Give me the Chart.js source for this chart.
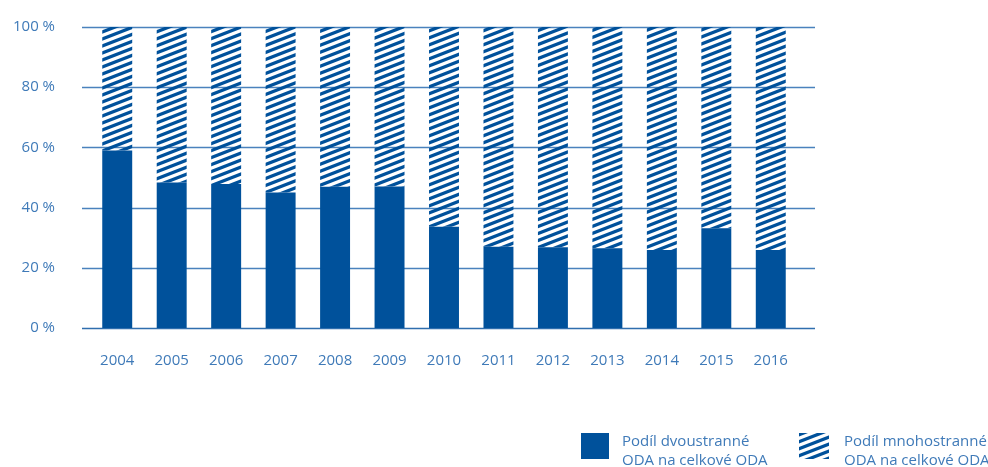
<!DOCTYPE html>
<html>
<head>
<meta charset="utf-8">
<script src="https://cdn.jsdelivr.net/npm/chart.js@4.4.0/dist/chart.umd.min.js"></script>
<style>
  html, body { margin: 0; padding: 0; background: #fff; }
  #wrap { position: relative; width: 988px; height: 467px; }
  .lg { position: absolute; font-family: "Open Sans", sans-serif; font-size: 15px; line-height: 19px; color: #3f7ab8; white-space: nowrap; }
  .sw { position: absolute; width: 28px; height: 26px; }
</style>
</head>
<body>
<div id="wrap">
  <canvas id="oda" width="988" height="467"></canvas>
  <div class="sw" id="sw1" style="left:581px; top:433px; background:#00519b;"></div>
  <div class="lg" style="left:622px; top:431px;">Podíl dvoustranné<br>ODA na celkové ODA</div>
  <canvas class="sw" id="sw2" width="30" height="26" style="left:799px; top:433px; width:30px;"></canvas>
  <div class="lg" style="left:844px; top:431px;">Podíl mnohostranné<br>ODA na celkové ODA</div>
</div>
<script>
var years = ["2004", "2005", "2006", "2007", "2008", "2009", "2010", "2011", "2012", "2013", "2014", "2015", "2016"];
var bilateral = [59, 48.3, 47.8, 45, 46.9, 47, 33.6, 27, 26.8, 26.5, 25.9, 33.1, 25.9];
var multilateral = [41, 51.7, 52.2, 55, 53.1, 53, 66.4, 73, 73.2, 73.5, 74.1, 66.9, 74.1];
var yTicks = [0, 20, 40, 60, 80, 100];

var blue = "#00519b";
var textBlue = "#3f7ab8";
var gridBlue = "#4a82bd";

// diagonal hatch pattern
function makeHatch(ctx) {
    var c = document.createElement("canvas");
    var w = 18, h = 7, t = 3.5;
    c.width = w; c.height = h;
    var g = c.getContext("2d");
    g.fillStyle = blue;
    for (var k = -1; k <= 1; k++) {
        var o = k * h;
        g.beginPath();
        g.moveTo(0, h + o);
        g.lineTo(w, o);
        g.lineTo(w, o + t);
        g.lineTo(0, h + o + t);
        g.closePath();
        g.fill();
    }
    return ctx.createPattern(c, "repeat");
}

var ctx = document.getElementById("oda").getContext("2d");
var hatch = makeHatch(ctx);

var sw2 = document.getElementById("sw2").getContext("2d");
sw2.fillStyle = makeHatch(sw2);
sw2.fillRect(0, 0, 30, 26);

// horizontal grid lines, wider than the category area
var gridPlugin = {
    id: "gridLines",
    beforeDatasetsDraw: function (chart) {
        var y = chart.scales.y, a = chart.chartArea, c = chart.ctx;
        c.save();
        yTicks.forEach(function (v) {
            var py = Math.round(y.getPixelForValue(v)) + 0.5;
            c.beginPath();
            c.lineWidth = v === 0 ? 1.6 : 1.3;
            c.strokeStyle = v === 0 ? "#2f6eae" : gridBlue;
            c.moveTo(a.left - 8, py);
            c.lineTo(a.right + 17, py);
            c.stroke();
        });
        c.restore();
    }
};

var chart = new Chart(ctx, {
    type: "bar",
    data: {
        labels: years,
        datasets: [
            { label: "Podíl dvoustranné ODA na celkové ODA", data: bilateral, backgroundColor: blue },
            { label: "Podíl mnohostranné ODA na celkové ODA", data: multilateral, backgroundColor: hatch }
        ]
    },
    options: {
        responsive: false,
        devicePixelRatio: 1,
        animation: false,
        layout: { padding: { top: 27, right: 190, bottom: 0, left: 0 } },
        plugins: { legend: { display: false }, tooltip: { enabled: false } },
        datasets: { bar: { barPercentage: 0.55, categoryPercentage: 1 } },
        scales: {
            x: {
                stacked: true,
                grid: { display: false, drawTicks: false },
                border: { display: false },
                ticks: { color: textBlue, font: { family: "Open Sans", size: 15 }, padding: 24, maxRotation: 0 },
                afterFit: function (s) { s.height = 139; s.paddingLeft = 0; s.paddingRight = 0; }
            },
            y: {
                stacked: true,
                min: 0,
                max: 100,
                grid: { display: false, drawTicks: false },
                border: { display: false },
                ticks: {
                    stepSize: 20,
                    color: textBlue,
                    padding: 35,
                    font: { family: "Open Sans", size: 15 },
                    callback: function (v) { return v + " %"; }
                },
                afterFit: function (s) { s.width = 90; s.paddingTop = 0; s.paddingBottom = 0; }
            }
        }
    },
    plugins: [gridPlugin]
});
</script>
</body>
</html>
